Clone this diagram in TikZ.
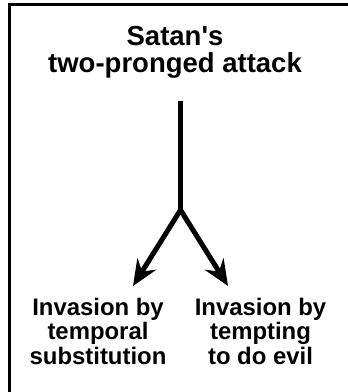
\documentclass[tikz,border=0pt]{standalone}
\usepackage{fontspec}
\setmainfont{Liberation Sans}
\usetikzlibrary{arrows.meta}
\tikzset{
  lbl/.style={font=\bfseries\fontsize{23.9}{24.5}\selectfont, align=center, inner sep=0pt, anchor=base},
  ttl/.style={font=\bfseries\fontsize{27.5}{26.5}\selectfont, align=center, inner sep=0pt, anchor=base},
  prong/.style={line width=5pt, -{Stealth[length=26pt, width=22pt, inset=9pt]}},
  stem/.style={line width=5pt}
}
\begin{document}
\begin{tikzpicture}[x=1pt,y=-1pt]
\useasboundingbox (0,0) rectangle (348,392);
\clip (0,0) rectangle (348,392);
\draw[line width=3pt] (9.7,4.7) rectangle (420,480);
\node[ttl] (title) at (175,72) {Satan\textquotesingle s\\two-pronged attack};
\coordinate (top) at (180.5,101);
\coordinate (fork) at (180.5,210);
\coordinate (ltip) at (133,286);
\coordinate (rtip) at (228,286);
\draw[stem] (top) -- (fork);
\draw[prong] (fork) -- (ltip);
\draw[prong] (fork) -- (rtip);
\node[lbl] (left) at (98,364) {Invasion by\\temporal\\substitution};
\node[lbl] (right) at (260.5,364) {Invasion by\\tempting\\to do evil};
\end{tikzpicture}
\end{document}
